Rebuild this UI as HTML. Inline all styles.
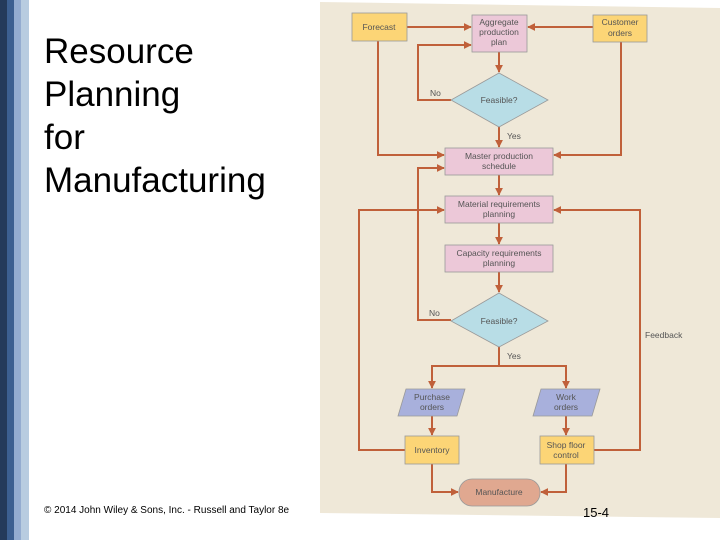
<!DOCTYPE html>
<html><head><meta charset="utf-8"><style>
body{margin:0;width:720px;height:540px;background:#fff;position:relative;overflow:hidden;font-family:"Liberation Sans",sans-serif}
.s{position:absolute;top:0;height:540px}
h1{position:absolute;left:44px;top:30px;margin:0;font-weight:normal;font-size:35px;line-height:43px;color:#000}
.c{position:absolute;left:44px;top:505px;font-size:10px}
.p{position:absolute;left:583px;top:505px;font-size:13px}
</style></head><body>
<div class="s" style="left:0;width:7px;background:#243a5a"></div>
<div class="s" style="left:7px;width:7px;background:#3c5f90"></div>
<div class="s" style="left:14px;width:7px;background:#94acd0"></div>
<div class="s" style="left:21px;width:8px;background:#b8cce0"></div>
<h1>Resource<br>Planning<br>for<br>Manufacturing</h1>
<svg style="position:absolute;left:0;top:0" width="720" height="540" font-family="Liberation Sans,sans-serif" font-size="8.5" fill="#555">
<defs><marker id="a" viewBox="0 0 10 10" refX="9" refY="5" markerWidth="4" markerHeight="4" orient="auto"><path d="M0,0L10,5L0,10z" fill="#c0603a"/></marker></defs>
<polygon points="320,2 720,8 720,518 320,513" fill="#efe8d8"/>
<g stroke="#c0603a" stroke-width="2" fill="none" marker-end="url(#a)">
<path d="M407,27H471"/><path d="M593,27H528"/>
<path d="M499,52V72"/><path d="M451,100H418V45H471"/>
<path d="M499,127V147"/><path d="M378,41V155H444"/><path d="M621,42V155H554"/>
<path d="M499,175V195"/><path d="M499,223V244"/><path d="M499,272V292"/>
<path d="M451,320H418V168H444"/>
<path d="M405,450H359V210H444"/><path d="M594,450H640V210H554"/>
<path d="M499,347V366H432V388"/><path d="M499,366H566V388"/>
<path d="M432,416V435"/><path d="M566,416V435"/>
<path d="M432,464V492H458"/><path d="M566,464V492H541"/>
</g>
<g stroke="#999" stroke-width="0.8">
<rect x="352" y="13" width="55" height="28" fill="#fcd576"/>
<rect x="472" y="15" width="55" height="37" fill="#ecc8d8"/>
<rect x="593" y="15" width="54" height="27" fill="#fcd576"/>
<polygon points="499,73 548,100 499,127 451,100" fill="#b8dde6"/>
<rect x="445" y="148" width="108" height="27" fill="#ecc8d8"/>
<rect x="445" y="196" width="108" height="27" fill="#ecc8d8"/>
<rect x="445" y="245" width="108" height="27" fill="#ecc8d8"/>
<polygon points="499,293 548,321 499,347 451,321" fill="#b8dde6"/>
<polygon points="406,389 465,389 457,416 398,416" fill="#a8b0dc"/>
<polygon points="541,389 600,389 592,416 533,416" fill="#a8b0dc"/>
<rect x="405" y="436" width="54" height="28" fill="#fcd576"/>
<rect x="540" y="436" width="54" height="28" fill="#fcd576"/>
<rect x="459" y="479" width="81" height="27" rx="13" fill="#e0a890"/>
</g>
<g text-anchor="middle">
<text x="379" y="30">Forecast</text>
<text x="499" y="25">Aggregate</text><text x="499" y="35">production</text><text x="499" y="45">plan</text>
<text x="620" y="25">Customer</text><text x="620" y="36">orders</text>
<text x="499" y="103">Feasible?</text>
<text x="499" y="159">Master production</text><text x="499" y="169">schedule</text>
<text x="499" y="207">Material requirements</text><text x="499" y="217">planning</text>
<text x="499" y="256">Capacity requirements</text><text x="499" y="266">planning</text>
<text x="499" y="324">Feasible?</text>
<text x="432" y="400">Purchase</text><text x="432" y="410">orders</text>
<text x="566" y="400">Work</text><text x="566" y="410">orders</text>
<text x="432" y="453">Inventory</text>
<text x="566" y="448">Shop floor</text><text x="566" y="458">control</text>
<text x="499" y="495">Manufacture</text>
</g>
<text x="430" y="96">No</text><text x="507" y="139">Yes</text>
<text x="429" y="316">No</text><text x="507" y="359">Yes</text>
<text x="645" y="338">Feedback</text>
</svg>
<div class="c">© 2014 John Wiley &amp; Sons, Inc. - Russell and Taylor 8e</div>
<div class="p">15-4</div>
</body></html>
